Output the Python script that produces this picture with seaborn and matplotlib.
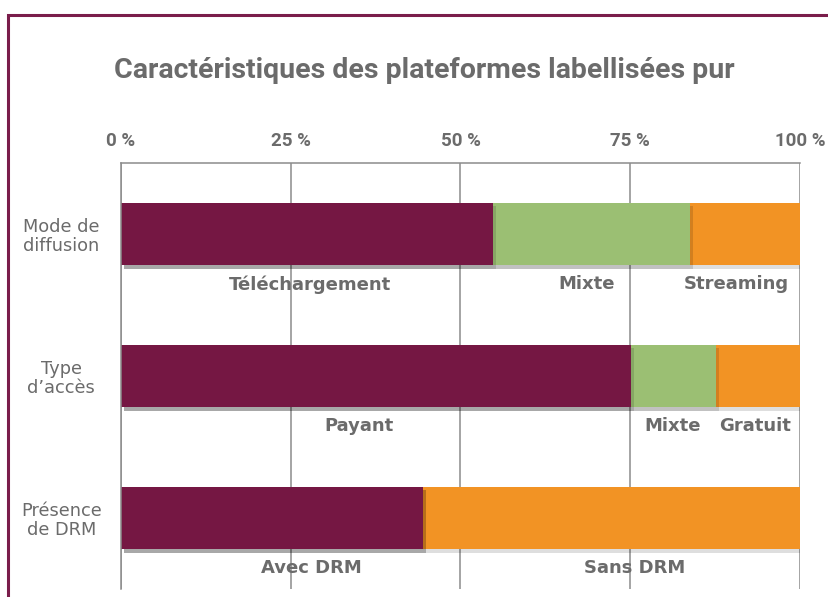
import numpy as np
import pandas as pd
import matplotlib.pyplot as plt
import matplotlib.patheffects as pe
from matplotlib.patches import Rectangle
import seaborn as sns

categories = ["Mode de\ndiffusion", "Type\nd\u2019accès", "Présence\nde DRM"]
first_share = [54.8, 75.1, 44.5]
middle_share = [29.0, 12.5, 0.0]
last_share = [16.2, 12.4, 55.5]
segment_labels = [["Téléchargement", "Mixte", "Streaming"],
                  ["Payant", "Mixte", "Gratuit"],
                  ["Avec DRM", None, "Sans DRM"]]
# where each label sits along the axis, in %
label_x = [[27.8, 68.6, 90.6],
           [35.0, 81.3, 93.4],
           [28.0, None, 75.6]]
xticks = [0, 25, 50, 75, 100]

maroon = "#751743"
green = "#9BBF73"
orange = "#F29324"
grey = "#6b6b6b"

df = pd.DataFrame({"cat": categories,
                   "a": first_share, "b": middle_share, "c": last_share})
df["ab"] = df["a"] + df["b"]
df["abc"] = df["ab"] + df["c"]

sns.set_style("white")
plt.rcParams["font.family"] = ["DejaVu Sans"]

fig = plt.figure(figsize=(8.29, 5.97), dpi=100)
ax = fig.add_axes([121 / 829, 8 / 597, 679 / 829, 426 / 597])

shadow = [pe.SimplePatchShadow(offset=(2, -2.5), shadow_rgbFace="black", alpha=0.13), pe.Normal()]
for col, color in [("abc", orange), ("ab", green), ("a", maroon)]:
    sns.barplot(data=df, x=col, y="cat", color=color, width=0.44,
                orient="h", ax=ax, saturation=1, linewidth=0)
for p in ax.patches:
    p.set_path_effects(shadow)

ax.set_xlim(0, 100)
ax.set_ylim(2.5, -0.5)
ax.set_xlabel("")
ax.set_ylabel("")

for i, row in enumerate(segment_labels):
    for lab, x in zip(row, label_x[i]):
        if lab is None:
            continue
        ax.text(x, i + 0.355, lab, ha="center", va="center", fontsize=13,
                fontweight="bold", color=grey)

ax.xaxis.tick_top()
ax.set_xticks(xticks)
ax.set_xticklabels([f"{t} %" for t in xticks], fontsize=13.5, fontweight="bold",
                   color=grey, family=["Roboto", "DejaVu Sans"])
ax.tick_params(axis="x", length=0, pad=9)
ax.grid(axis="x", color="#8c8c8c", linewidth=1.1)
ax.set_axisbelow(True)

ax.set_yticks(range(len(categories)))
ax.set_yticklabels(categories, fontsize=12.8, color=grey, ha="center",
                   multialignment="center", linespacing=1.05)
ax.tick_params(axis="y", which="major", length=0, pad=43)
ax.set_yticks([-0.5, 0.5, 1.5, 2.5], minor=True)
ax.tick_params(axis="y", which="minor", length=9, width=1.1, color="#8c8c8c",
               direction="out")

for s in ["bottom", "right"]:
    ax.spines[s].set_visible(False)
ax.spines["left"].set_color("#8c8c8c")
ax.spines["top"].set_color("#8c8c8c")
ax.spines["left"].set_linewidth(1.1)
ax.spines["top"].set_linewidth(1.1)

fig.text(424 / 829, 1 - 70 / 597, "Caractéristiques des plateformes labellisées pur",
         ha="center", va="center", fontsize=20.5, fontweight="bold", color=grey,
         family=["Roboto", "DejaVu Sans"])

fig.patches.append(Rectangle((8 / 829, -0.2), 1.2, 1.2 - 15 / 597,
                             transform=fig.transFigure, fill=False,
                             edgecolor="#7a1d4b", linewidth=2.2))

fig.savefig("out.png", dpi=100)
